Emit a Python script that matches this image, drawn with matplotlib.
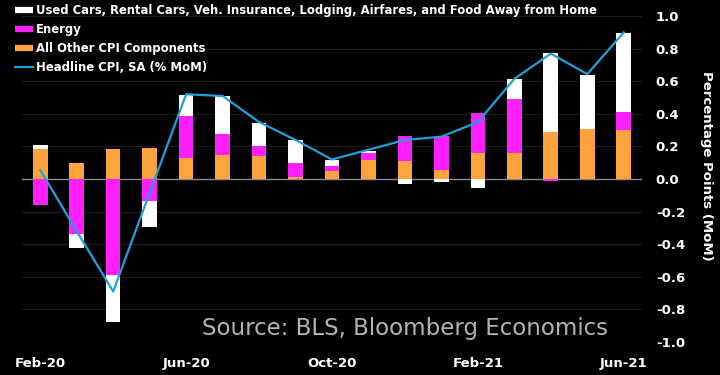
import numpy as np
import matplotlib
matplotlib.use("Agg")
import matplotlib.pyplot as plt
from matplotlib.lines import Line2D

months = ["Feb-20", "Mar-20", "Apr-20", "May-20", "Jun-20", "Jul-20", "Aug-20", "Sep-20",
          "Oct-20", "Nov-20", "Dec-20", "Jan-21", "Feb-21", "Mar-21", "Apr-21", "May-21", "Jun-21"]
other = [0.186, 0.10, 0.182, 0.192, 0.131, 0.147, 0.141, 0.014, 0.049, 0.115, 0.110,
         0.053, 0.16, 0.161, 0.286, 0.307, 0.302]
energy = [-0.161, -0.337, -0.589, -0.135, 0.257, 0.129, 0.059, 0.084, 0.033, 0.043, 0.157,
          0.213, 0.243, 0.329, -0.01, 0.0, 0.107]
reopening = [0.021, -0.088, -0.29, -0.157, 0.13, 0.235, 0.147, 0.143, 0.035, 0.016, -0.033,
             -0.018, -0.053, 0.125, 0.485, 0.333, 0.49]
headline = [0.055, -0.32, -0.69, -0.085, 0.52, 0.51, 0.35, 0.24, 0.12, 0.18, 0.24,
            0.26, 0.35, 0.615, 0.77, 0.644, 0.90]
yticks = [-1.0, -0.8, -0.6, -0.4, -0.2, 0.0, 0.2, 0.4, 0.6, 0.8, 1.0]

labels = ["Used Cars, Rental Cars, Veh. Insurance, Lodging, Airfares, and Food Away from Home",
          "Energy", "All Other CPI Components", "Headline CPI, SA (% MoM)"]
c_orange = "#ffa33c"
c_magenta = "#ff1fff"
c_white = "#ffffff"
c_blue = "#1fa0dc"

plt.rcParams["axes.unicode_minus"] = False
plt.rcParams["font.family"] = "DejaVu Sans"

fig = plt.figure(figsize=(7.2, 3.75), dpi=100, facecolor="black")
ax = fig.add_axes([0.0306, 0.088, 0.861, 0.869], facecolor="black")

x = np.arange(len(months))
pos = np.zeros(len(x))
neg = np.zeros(len(x))
for vals, col in [(other, c_orange), (energy, c_magenta), (reopening, c_white)]:
    v = np.array(vals)
    base = np.where(v >= 0, pos, neg)
    ax.bar(x, v, bottom=base, width=0.4, color=col, zorder=3)
    pos += np.clip(v, 0, None)
    neg += np.clip(v, None, 0)

ax.plot(x, headline, color=c_blue, lw=1.6, zorder=4)
ax.axhline(0, color="#8a8a8a", lw=1, zorder=2)

ax.set_xlim(-0.5, 16.5)
ax.set_ylim(-1.0, 1.0)
ax.set_yticks(yticks)
ax.yaxis.tick_right()
ax.yaxis.set_label_position("right")
ax.set_yticklabels([f"{t:.1f}" for t in yticks])
ax.tick_params(axis="y", length=0, pad=10, labelsize=9.5, labelcolor="white")
ax.set_xticks(x[::4])
ax.set_xticklabels([months[i] for i in x[::4]])
ax.tick_params(axis="x", length=0, pad=11, labelsize=9.5, labelcolor="white")
for t in ax.get_xticklabels() + ax.get_yticklabels():
    t.set_fontweight("bold")
ax.grid(axis="y", color="#1c1c1c", lw=0.8, zorder=0)
for s in ax.spines.values():
    s.set_visible(False)

ax.set_ylabel("Percentage Points (MoM)", rotation=270, color="white", fontsize=9.5,
              fontweight="bold")
ax.yaxis.set_label_coords(1.115, 0.54)

handles = [Line2D([], [], color=c_white, lw=4.5, solid_capstyle="butt"),
           Line2D([], [], color=c_magenta, lw=4.5, solid_capstyle="butt"),
           Line2D([], [], color=c_orange, lw=4.5, solid_capstyle="butt"),
           Line2D([], [], color=c_blue, lw=1.6)]
leg = fig.legend(handles, labels, loc="upper left", bbox_to_anchor=(0.021, 0.989),
                 frameon=False, fontsize=8.4, handlelength=1.54, handletextpad=0.26,
                 labelspacing=0.51, borderaxespad=0, borderpad=0)
for t in leg.get_texts():
    t.set_color("white")
    t.set_fontweight("bold")

fig.text(0.28, 0.125, "Source: BLS, Bloomberg Economics", color="#b4b4b4",
         fontsize=16.5, va="center", ha="left")

fig.savefig("out.png", dpi=100, facecolor="black")
